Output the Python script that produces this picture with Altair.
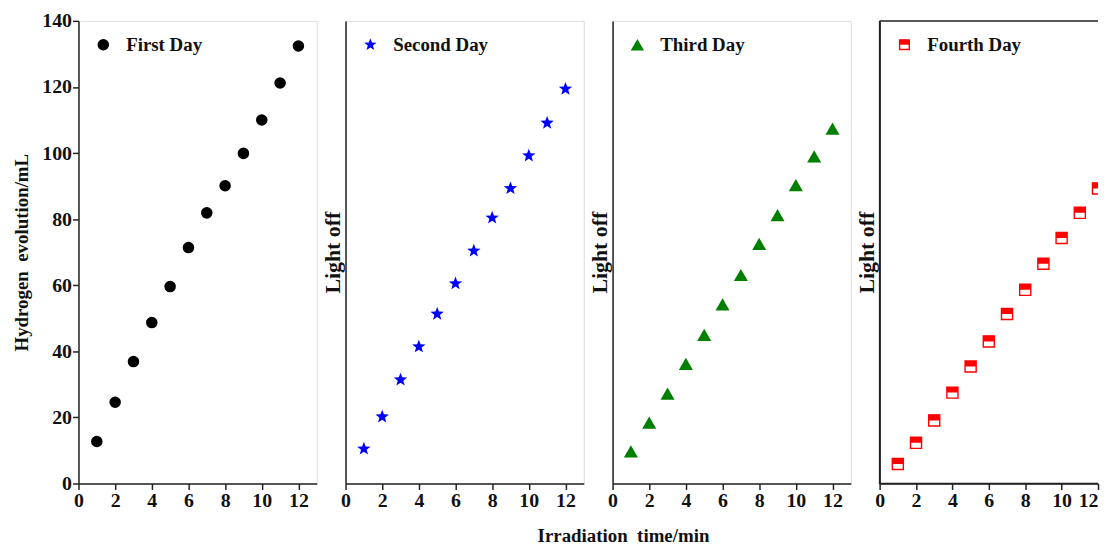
import math
import altair as alt
import pandas as pd

minutes = list(range(1, 13))
first_day = [12.7, 24.6, 36.9, 48.7, 59.6, 71.4, 81.9, 90.1, 99.9, 110.0, 121.2, 132.4]
second_day = [10.5, 20.2, 31.4, 41.4, 51.3, 60.5, 70.4, 80.4, 89.3, 99.2, 109.1, 119.4]
third_day = [9.7, 18.4, 27.2, 36.2, 45.0, 54.2, 63.1, 72.5, 81.2, 90.3, 99.0, 107.4]
fourth_day = [5.9, 12.3, 19.1, 27.5, 35.4, 43.0, 51.3, 58.6, 66.5, 74.3, 81.9, 89.3]

labels = ["First Day", "Second Day", "Third Day", "Fourth Day"]
colors = ["#000000", "#0000FF", "#008000", "#FF0000"]
x_ticks = [0, 2, 4, 6, 8, 10, 12]
y_ticks = [0, 20, 40, 60, 80, 100, 120, 140]

FONT = "Liberation Serif"
W, H = 240, 466
W_LAST = 220

# star symbol path (normalized [-1,1])
pts = []
for i in range(10):
    a = -math.pi / 2 + i * math.pi / 5
    r = 1.0 if i % 2 == 0 else 0.42
    pts.append(f"{r * math.cos(a):.3f},{r * math.sin(a):.3f}")
STAR = "M" + " L".join(pts) + " Z"
TOP_HALF = "M-1,-1 L1,-1 L1,0 L-1,0 Z"


def panel(values, label, color, idx):
    last = idx == 3
    df = pd.DataFrame({"t": minutes, "v": values})
    xs = alt.X("t:Q", scale=alt.Scale(domain=[0, 12 if last else 13], nice=False),
               axis=alt.Axis(values=x_ticks, title=None, labelFontSize=20, labelFont=FONT,
                             labelFontWeight="bold", labelColor="#111", tickSize=6,
                             tickColor="#222", tickWidth=1.5, domainColor="#222",
                             domainWidth=1.5, labelPadding=1, labelFlush=False, grid=False,
                             labelAlign=alt.condition("datum.value == 12 && %s" % ("true" if last else "false"),
                                                      alt.value("right"), alt.value("center"))))
    if idx == 0:
        yax = alt.Axis(values=y_ticks, title="Hydrogen\u00a0 evolution/mL", titleFontSize=19,
                       titleFont=FONT, titleFontWeight="bold", titleColor="#111",
                       labelFontSize=20, labelFont=FONT, labelFontWeight="bold",
                       labelColor="#111", tickSize=6, tickColor="#222", tickWidth=1.5,
                       domainColor="#222", domainWidth=1.5, labelPadding=1,
                       labelFlush=False, titlePadding=10, grid=False)
    else:
        yax = alt.Axis(values=y_ticks, title="Light off", titleFontSize=22, titleFont=FONT,
                       titleFontWeight="bold", titleColor="#111", labels=False, ticks=False,
                       domainColor="#222", domainWidth=1.5, titlePadding=1, grid=False)
    ys = alt.Y("v:Q", scale=alt.Scale(domain=[0, 140], nice=False), axis=yax)
    base = alt.Chart(df).encode(x=xs, y=ys)
    leg = pd.DataFrame({"label": [label]})
    lbase = alt.Chart(leg)
    if idx == 0:
        layers = [base.mark_point(shape="circle", filled=True, size=135, color=color, opacity=1)]
        lsyms = [lbase.mark_point(shape="circle", filled=True, size=135, color=color, opacity=1)]
    elif idx == 1:
        layers = [base.mark_point(shape=STAR, filled=True, size=200, color=color, opacity=1)]
        lsyms = [lbase.mark_point(shape=STAR, filled=True, size=170, color=color, opacity=1)]
    elif idx == 2:
        layers = [base.mark_point(shape="triangle-up", filled=True, size=200, color=color, opacity=1)]
        lsyms = [lbase.mark_point(shape="triangle-up", filled=True, size=180, color=color, opacity=1)]
    else:
        layers = [
            base.mark_point(shape="square", filled=True, size=125, color="white",
                            stroke=color, strokeWidth=1.4, opacity=1, clip=True),
            base.mark_point(shape=TOP_HALF, filled=True, size=125, color=color, opacity=1,
                            clip=True),
        ]
        lsyms = [
            lbase.mark_point(shape="square", filled=True, size=95, color="white",
                             stroke=color, strokeWidth=1.4, opacity=1),
            lbase.mark_point(shape=TOP_HALF, filled=True, size=95, color=color, opacity=1),
        ]
    lsyms = [s.encode(x=alt.value(25), y=alt.value(24)) for s in lsyms]
    ltext = lbase.mark_text(align="left", baseline="middle", font=FONT, fontSize=19,
                            fontWeight="bold", color="#111").encode(
        x=alt.value(48), y=alt.value(24), text="label:N")
    ch = alt.layer(*layers, *lsyms, ltext).properties(width=W_LAST if last else W, height=H)
    if last:
        ch = ch.properties(view=alt.ViewBackground(
            stroke="#222", strokeWidth=1.5, strokeDash=[W_LAST, H, W_LAST + H, 0]))
    return ch


charts = [panel(v, l, c, i) for i, (v, l, c) in
          enumerate(zip([first_day, second_day, third_day, fourth_day], labels, colors))]

chart = alt.hconcat(*charts, spacing=3).properties(
    title=alt.TitleParams("Irradiation\u00a0 time/min", orient="bottom", anchor="middle",
                          fontSize=19, font=FONT, fontWeight="bold", color="#111",
                          offset=16, dx=68),
    padding={"left": 4, "top": 0, "right": 0, "bottom": 0},
).configure_view(stroke="#222", strokeWidth=1.5).configure(background="white")

chart.save("out.html", embed_options={"renderer": "svg", "actions": False})
